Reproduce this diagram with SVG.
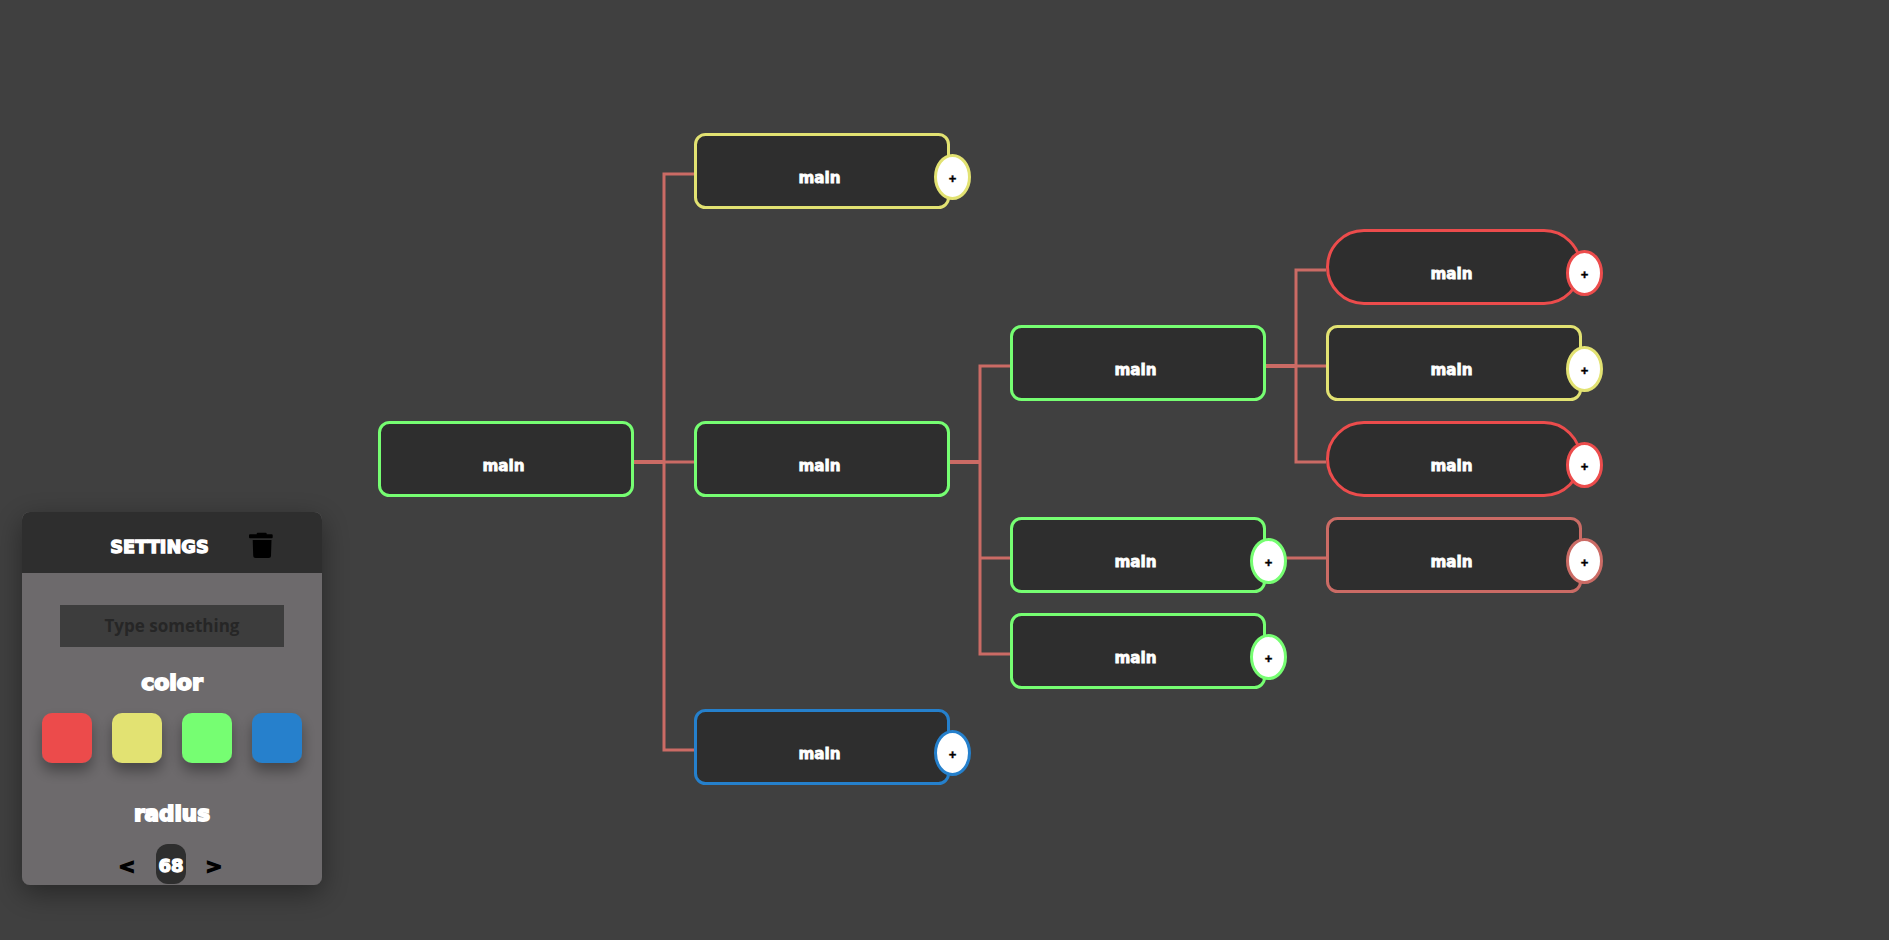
<svg xmlns="http://www.w3.org/2000/svg" width="1889" height="940" viewBox="0 0 1889 940">
<defs>
<filter id="panelShadow" x="-30%" y="-30%" width="160%" height="160%"><feDropShadow dx="0" dy="8" stdDeviation="14" flood-color="#000" flood-opacity="0.4"/></filter>
<filter id="swatchShadow" x="-50%" y="-50%" width="200%" height="220%"><feDropShadow dx="0" dy="8" stdDeviation="7" flood-color="#000" flood-opacity="0.35"/></filter>
</defs>
<style>
.bg{fill:#404040}
.box{fill:#2e2e2e;stroke-width:3}
.btn{fill:#fff;stroke-width:3}
.lbl{font-family:"DejaVu Sans","Liberation Sans",sans-serif;font-weight:700;font-size:15.200px;fill:#fff;text-anchor:middle;stroke:#fff;stroke-width:.8px}
.plus{font-family:"Liberation Sans",sans-serif;font-weight:700;font-size:13px;fill:#000;text-anchor:middle;stroke:#000;stroke-width:.4px}
.head{font-family:"DejaVu Sans","Liberation Sans",sans-serif;font-weight:700;fill:#fff;text-anchor:middle;stroke:#fff;stroke-width:1.300px}
.arrow{font-family:"DejaVu Sans","Liberation Sans",sans-serif;font-weight:700;font-size:20px;fill:#000;text-anchor:middle;stroke:#000;stroke-width:1.500px}
.g{stroke:#76fe72}.y{stroke:#e2e272}.r{stroke:#ec4c4c}.b{stroke:#2580cc}.c{stroke:#cb6b65}
#connectors path{fill:none;stroke:#cb6b65;stroke-width:3}
</style>
<rect class="bg" width="1889" height="940"/>
<g id="connectors">
<path d="M634 462H694"/><path d="M634 462H664" style="stroke-width:4"/>
<path d="M694 174H664V750H694"/>
<path d="M950 462H980" style="stroke-width:4"/>
<path d="M1010 366H980V654H1010M980 558H1010"/>
<path d="M1266 366H1326"/><path d="M1266 366H1296" style="stroke-width:4"/>
<path d="M1326 270H1296V462H1326"/>
<path d="M1266 558H1326"/>
</g>
<g id="n1"><rect class="box g" x="379.500" y="422.500" width="253" height="73" rx="10"/><text class="lbl" x="503.500" y="471">main</text></g>
<g id="n2"><rect class="box y" x="695.500" y="134.500" width="253" height="73" rx="10"/><text class="lbl" x="819.500" y="183">main</text><ellipse class="btn y" cx="952.500" cy="177" rx="17" ry="21.500"/><text class="plus" x="952.500" y="182.500">+</text></g>
<g id="n3"><rect class="box g" x="695.500" y="422.500" width="253" height="73" rx="10"/><text class="lbl" x="819.500" y="471">main</text></g>
<g id="n4"><rect class="box b" x="695.500" y="710.500" width="253" height="73" rx="10"/><text class="lbl" x="819.500" y="759">main</text><ellipse class="btn b" cx="952.500" cy="753" rx="17" ry="21.500"/><text class="plus" x="952.500" y="758.500">+</text></g>
<g id="n5"><rect class="box g" x="1011.500" y="326.500" width="253" height="73" rx="10"/><text class="lbl" x="1135.500" y="375">main</text></g>
<g id="n6"><rect class="box g" x="1011.500" y="518.500" width="253" height="73" rx="10"/><text class="lbl" x="1135.500" y="567">main</text><ellipse class="btn g" cx="1268.500" cy="561" rx="17" ry="21.500"/><text class="plus" x="1268.500" y="566.500">+</text></g>
<g id="n7"><rect class="box g" x="1011.500" y="614.500" width="253" height="73" rx="10"/><text class="lbl" x="1135.500" y="663">main</text><ellipse class="btn g" cx="1268.500" cy="657" rx="17" ry="21.500"/><text class="plus" x="1268.500" y="662.500">+</text></g>
<g id="n8"><rect class="box r" x="1327.500" y="230.500" width="253" height="73" rx="36.500"/><text class="lbl" x="1451.500" y="279">main</text><ellipse class="btn r" cx="1584.500" cy="273" rx="17" ry="21.500"/><text class="plus" x="1584.500" y="278.500">+</text></g>
<g id="n9"><rect class="box y" x="1327.500" y="326.500" width="253" height="73" rx="10"/><text class="lbl" x="1451.500" y="375">main</text><ellipse class="btn y" cx="1584.500" cy="369" rx="17" ry="21.500"/><text class="plus" x="1584.500" y="374.500">+</text></g>
<g id="n10"><rect class="box r" x="1327.500" y="422.500" width="253" height="73" rx="36.500"/><text class="lbl" x="1451.500" y="471">main</text><ellipse class="btn r" cx="1584.500" cy="465" rx="17" ry="21.500"/><text class="plus" x="1584.500" y="470.500">+</text></g>
<g id="n11"><rect class="box c" x="1327.500" y="518.500" width="253" height="73" rx="10"/><text class="lbl" x="1451.500" y="567">main</text><ellipse class="btn c" cx="1584.500" cy="561" rx="17" ry="21.500"/><text class="plus" x="1584.500" y="566.500">+</text></g>
<g id="settings">
<rect x="22" y="512" width="300" height="373" rx="8" fill="#6d6b6c" filter="url(#panelShadow)"/>
<path d="M22 573V520a8 8 0 0 1 8-8H314a8 8 0 0 1 8 8V573Z" fill="#2e2e2e"/>
<text class="head" x="159.500" y="552.500" font-size="17.800">SETTINGS</text>
<path d="M256.700 534.300v-.6a1 1 0 0 1 1-1h8a1 1 0 0 1 1 1v.6h5a1 1 0 0 1 1 1v2a1 1 0 0 1-1 1h-21.700a1 1 0 0 1-1-1v-2a1 1 0 0 1 1-1Z M252.700 540h18.800l-.5 15.500a2.500 2.500 0 0 1-2.500 2.500h-12.800a2.500 2.500 0 0 1-2.500-2.500Z" fill="#000"/>
<rect x="60" y="605" width="224" height="42" fill="#3d3d3d"/>
<text x="172" y="631.500" font-family="'Open Sans','Noto Sans',sans-serif" font-weight="700" font-size="17" fill="#262626" text-anchor="middle">Type something</text>
<text class="head" x="172" y="690" font-size="22" style="stroke-width:1.800px">color</text>
<rect x="42" y="713" width="50" height="50" rx="10" fill="#ec4c4c" filter="url(#swatchShadow)"/>
<rect x="112" y="713" width="50" height="50" rx="10" fill="#e2e272" filter="url(#swatchShadow)"/>
<rect x="182" y="713" width="50" height="50" rx="10" fill="#76fe72" filter="url(#swatchShadow)"/>
<rect x="252" y="713" width="50" height="50" rx="10" fill="#2580cc" filter="url(#swatchShadow)"/>
<text class="head" x="172" y="821" font-size="21.500" style="stroke-width:1.800px">radius</text>
<text class="arrow" x="127" y="873">&lt;</text>
<rect x="156" y="844" width="30" height="40" rx="12" fill="#2e2e2e"/>
<text class="head" x="171" y="871.500" font-size="18">68</text>
<text class="arrow" x="214" y="873">&gt;</text>
</g>
</svg>
